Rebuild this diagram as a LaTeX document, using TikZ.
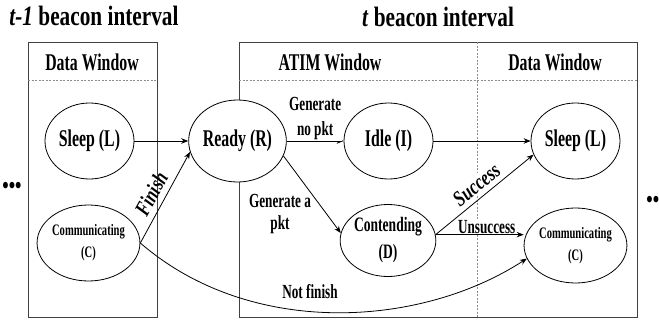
\documentclass[tikz,border=0pt]{standalone}
\usepackage{fontspec}
\setmainfont{Liberation Serif}[FakeStretch=0.66]
\newfontfamily\titlefont{Liberation Serif}[FakeStretch=0.76]
\usepackage{tikz}
\usetikzlibrary{arrows.meta,shapes.geometric}

\newcommand{\fsz}[2]{\fontsize{#1}{#2}\selectfont\bfseries}

\begin{document}
\begin{tikzpicture}[x=1pt,y=-1pt,
  state/.style={ellipse, draw, fill=white, inner sep=0pt, align=center,
    minimum width=89pt, minimum height=76pt, font=\fsz{24}{24}},
  win/.style={draw=black!75, line width=0.9pt},
  sep/.style={draw=black!45, line width=0.5pt, dash pattern=on 2pt off 1.5pt},
  lbl/.style={font=\fsz{20}{22}, align=center, fill=white, inner sep=1pt},
  slant/.style={font={\titlefont\fsz{22}{22}\itshape}, sloped, inner sep=1pt},
  head/.style={font=\fsz{24}{24}},
  title/.style={font={\titlefont\fsz{28}{28}}},
  >={Stealth[length=7pt,width=5.5pt]}, line width=0.8pt
]
  \useasboundingbox (0,0) rectangle (659,324);

  % beacon intervals
  \node[title] (ttl1) at (94,16) {\textit{t-1} beacon interval};
  \node[title] (ttl2) at (438,17) {\textit{t} beacon interval};

  % windows
  \draw[win] (28,42) rectangle (157,317);
  \draw[win] (239,42) rectangle (637,317);
  \draw[sep] (28,80) -- (157,80);
  \draw[sep] (239,80) -- (637,80);
  \draw[sep] (477,42) -- (477,317);
  \node[head] (dw1) at (92,62) {Data Window};
  \node[head] (atim) at (330,62) {ATIM Window};
  \node[head] (dw2) at (555,62) {Data Window};

  % states
  \node[state] (sl) at (89.5,141) {Sleep (L)};
  \node[state, font=\fsz{16}{22}] (cl) at (88.5,243) {Communicating\\(C)};
  \node[state, minimum height=82pt] (rd) at (237.5,141) {Ready (R)};
  \node[state] (id) at (388.5,141) {Idle (I)};
  \node[state, minimum width=90pt, minimum height=72pt,
    font=\fsz{20.5}{27}] (cd) at (388,240.5) {Contending\\(D)};
  \node[state] (sr) at (575.5,141) {Sleep (L)};
  \node[state, minimum height=75pt, font=\fsz{16}{22}] (cr) at (575.5,245.5) {Communicating\\(C)};

  % transitions
  \draw[->] (sl) -- (rd);
  \draw[->] (cl.east) -- node[slant, above=5pt, pos=0.47] {Finish} (rd.-167);
  \draw[->] (cl.east) .. controls (250,338) and (420,328) .. (cr.-165);
  \draw[->] (rd) -- node[lbl, above, font=\fsz{20}{25}] {Generate\\no pkt} (id);
  \draw[->] (rd.-18) -- (cd.171);
  \draw[->] (id) -- (sr);
  \draw[->] (cd.7) -- node[slant, fill=white, above=4pt, pos=0.5] {Success} (sr.198);
  \draw[->] (cd.7) -- node[lbl, above, pos=0.58] {Unsuccess} (cd.7 -| cr.west);

  \node[lbl, fill=none] (gena) at (280,214) {Generate a\\pkt};
  \node[lbl, fill=none] (nfin) at (310,292) {Not finish};

  % more intervals
  \node[font={\titlefont\fsz{24}{24}}] (dotl) at (12,188) {•••};
  \node[font={\titlefont\fsz{24}{24}}] (dotr) at (656,202) {•••};
\end{tikzpicture}
\end{document}
